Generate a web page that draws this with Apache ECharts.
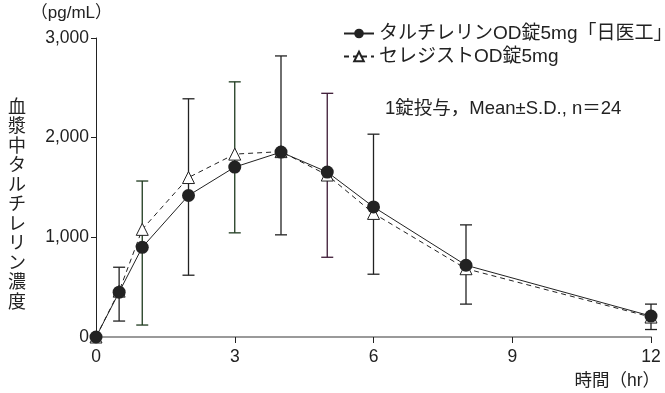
<!DOCTYPE html>
<html>
<head>
<meta charset="utf-8">
<script src="https://cdn.jsdelivr.net/npm/echarts@6/dist/echarts.min.js"></script>
<style>
html,body{margin:0;padding:0;background:#fff;}
#chart{width:665px;height:393px;}
</style>
</head>
<body>
<div id="chart"></div>
<script>
// ---- data ----
var times = [0, 0.5, 1, 2, 3, 4, 5, 6, 8, 12];
var taltirelinMean = [0, 450, 900, 1420, 1705, 1855, 1655, 1305, 720, 210];
var ceredistMean = [0, 460, 1080, 1600, 1835, 1860, 1625, 1240, 685, 200];
var errLow = [0, 160, 120, 620, 1045, 1025, 800, 630, 330, 75];
var errHigh = [0, 700, 1565, 2390, 2560, 2820, 2445, 2035, 1125, 330];
var xTicks = [0, 3, 6, 9, 12];
var yTicks = [0, 1000, 2000, 3000];
var seriesNames = ['タルチレリンOD錠5mg「日医工」', 'セレジストOD錠5mg'];
var yAxisTitle = '血漿中タルチレリン濃度';
var yUnit = '（pg/mL）';
var xAxisTitle = '時間（hr）';
var noteText = '1錠投与，Mean±S.D., n＝24';

// styles (not data)
var errColors = ['#222', '#222', '#1e3a1e', '#222', '#1e3a1e', '#222', '#3d1a35', '#222', '#222', '#222'];

var FONT = '"Liberation Sans", Arial, "Noto Sans CJK JP", sans-serif';
var JFONT = '"Liberation Sans", "Noto Sans CJK JP", sans-serif';

function zip(a, b) { return a.map(function (v, i) { return [v, b[i]]; }); }
var errData = times.map(function (t, i) { return [t, errLow[i], errHigh[i], i]; });

var chart = echarts.init(document.getElementById('chart'), null, {renderer: 'canvas'});
chart.setOption({
  animation: false,
  backgroundColor: '#fff',
  textStyle: {fontFamily: FONT},
  grid: {left: 96, right: 14, top: 38, bottom: 56, containLabel: false},
  legend: {
    left: 338, top: 19, orient: 'vertical', align: 'left', itemGap: 4,
    itemWidth: 30, itemHeight: 12,
    textStyle: {fontFamily: JFONT, fontSize: 19, color: '#222'},
    data: [seriesNames[0], seriesNames[1]]
  },
  xAxis: {
    type: 'value', min: 0, max: 12, interval: 3,
    axisLine: {show: true, lineStyle: {color: '#9a9a9a', width: 2}},
    axisTick: {show: true, length: 6, lineStyle: {color: '#222', width: 1}},
    axisLabel: {fontSize: 17.5, color: '#222', margin: 11, fontFamily: FONT,
      formatter: function (v) { return xTicks.indexOf(v) >= 0 ? String(v) : ''; }},
    splitLine: {show: false},
    name: xAxisTitle, nameLocation: 'end', nameGap: 0,
    nameTextStyle: {fontSize: 17.5, color: '#222', fontFamily: JFONT, align: 'right', verticalAlign: 'top', padding: [35, -9, 0, 0]}
  },
  yAxis: {
    type: 'value', min: 0, max: 3000, interval: 1000,
    axisLine: {show: true, lineStyle: {color: '#222', width: 1}},
    axisTick: {show: true, length: 5, inside: false, lineStyle: {color: '#222'}},
    axisLabel: {fontSize: 17.5, color: '#222', margin: 7, fontFamily: FONT,
      formatter: function (v) { return yTicks.indexOf(v) >= 0 ? v.toLocaleString('en-US') : ''; }},
    splitLine: {show: false},
    name: yUnit, nameLocation: 'end', nameGap: 16,
    nameTextStyle: {fontSize: 17, color: '#222', fontFamily: JFONT, align: 'right', padding: [0, -16, 0, 0]}
  },
  graphic: [
    {type: 'text', left: 8, top: 98, style: {text: yAxisTitle.split('').join('\n'), fontSize: 18, lineHeight: 19.5, fill: '#222', fontFamily: JFONT, align: 'left'}},
    {type: 'text', left: 385, top: 100, style: {text: noteText, fontSize: 18.5, fill: '#222', fontFamily: JFONT}}
  ],
  series: [
    {
      type: 'custom', name: 'err', silent: true, z: 1,
      data: errData,
      renderItem: function (params, api) {
        var x = api.value(0), lo = api.value(1), hi = api.value(2), idx = api.value(3);
        if (hi - lo <= 0) return null;
        var p1 = api.coord([x, lo]), p2 = api.coord([x, hi]);
        var c = errColors[idx], w = 6;
        var st = {stroke: c, lineWidth: 1.3};
        return {type: 'group', children: [
          {type: 'line', shape: {x1: p1[0], y1: p1[1], x2: p2[0], y2: p2[1]}, style: st},
          {type: 'line', shape: {x1: p1[0] - w, y1: p1[1], x2: p1[0] + w, y2: p1[1]}, style: st},
          {type: 'line', shape: {x1: p2[0] - w, y1: p2[1], x2: p2[0] + w, y2: p2[1]}, style: st}
        ]};
      }
    },
    {
      name: seriesNames[1], type: 'line', z: 2,
      data: zip(times, ceredistMean),
      symbol: 'triangle', symbolSize: 12,
      lineStyle: {color: '#222', width: 1, type: [5, 4]},
      itemStyle: {color: '#fff', borderColor: '#222', borderWidth: 1}
    },
    {
      name: seriesNames[0], type: 'line', z: 3,
      data: zip(times, taltirelinMean),
      symbol: 'circle', symbolSize: 13,
      lineStyle: {color: '#222', width: 1},
      itemStyle: {color: '#222', borderColor: '#111', borderWidth: 0}
    }
  ]
});
</script>
</body>
</html>
